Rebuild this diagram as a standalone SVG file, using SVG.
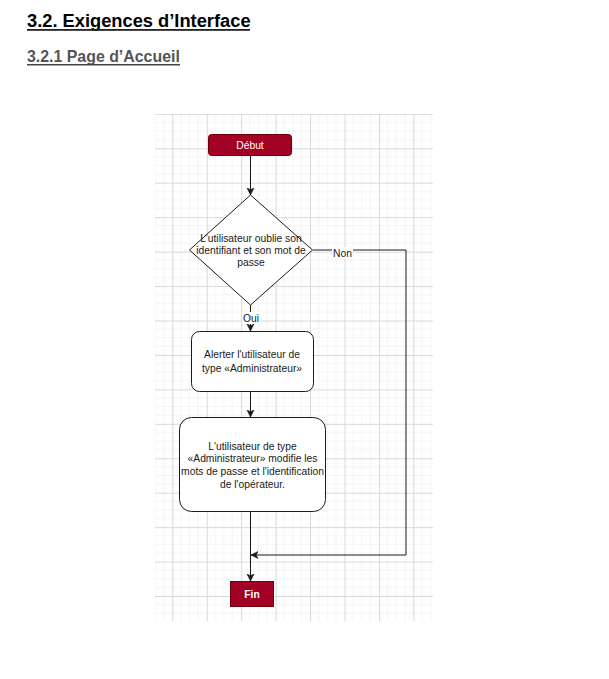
<svg xmlns="http://www.w3.org/2000/svg" width="609" height="679" viewBox="0 0 609 679">
<style>
.h1{font-family:"Liberation Sans",Arial,sans-serif;font-weight:bold;font-size:18.3px;fill:#000}
.h2{font-family:"Liberation Sans",Arial,sans-serif;font-weight:bold;font-size:15.9px;fill:#555}
.t{font-family:"Liberation Sans",Arial,sans-serif;font-size:10.3px;fill:#1a1a1a;text-anchor:middle;dominant-baseline:central}
.w{font-family:"Liberation Sans",Arial,sans-serif;font-size:10.3px;fill:#fff;text-anchor:middle;dominant-baseline:central}
.red{fill:#a20025;stroke:#6f0000;stroke-width:1}
.box{fill:#fff;stroke:#1a1a1a;stroke-width:1}
.ln{fill:none;stroke:#1a1a1a;stroke-width:1}
.lbl{fill:#fff}
</style>
<defs>
<pattern id="grid" patternUnits="userSpaceOnUse" x="172.3" y="148.3" width="34.44" height="34.44">
<path d="M8.61,0V34.44M17.22,0V34.44M25.83,0V34.44M0,8.61H34.44M0,17.22H34.44M0,25.83H34.44" stroke="#f4f4f4" stroke-width="1" fill="none"/>
<path d="M0.5,0V34.44M0,0.5H34.44" stroke="#d8d8d8" stroke-width="1" fill="none"/>
</pattern>
<marker id="arr" markerUnits="userSpaceOnUse" markerWidth="9" markerHeight="9" refX="7" refY="4" orient="auto">
<path d="M0,0.5 L7,4 L0,7.5 L1.8,4 Z" fill="#1a1a1a" stroke="#1a1a1a" stroke-width="0.6"/>
</marker>
</defs>
<rect width="609" height="679" fill="#fff"/>
<text class="h1" x="27" y="27">3.2. Exigences d’Interface</text>
<rect x="27" y="29" width="223" height="1.8" fill="#222"/>
<text class="h2" x="27" y="62">3.2.1 Page d’Accueil</text>
<rect x="27" y="64" width="153" height="1.5" fill="#444"/>
<rect x="155" y="114" width="278" height="507" fill="url(#grid)"/>
<g id="connectors">
<path class="ln" d="M250.5,156 V195" marker-end="url(#arr)"/>
<path class="ln" d="M250.5,305 V331" marker-end="url(#arr)"/>
<rect class="lbl" x="242" y="312" width="18" height="12"/>
<text class="t" x="251" y="318.3">Oui</text>
<path class="ln" d="M313,250 H406 V555 H251" marker-end="url(#arr)"/>
<rect class="lbl" x="332" y="247" width="21" height="12"/>
<text class="t" x="342.5" y="253">Non</text>
<path class="ln" d="M250.5,392 V417" marker-end="url(#arr)"/>
<path class="ln" d="M250.5,512 V581" marker-end="url(#arr)"/>
</g>
<g id="debut">
<rect class="red" x="208.5" y="134.5" width="83" height="21" rx="3"/>
<text class="w" x="250" y="145.5">Début</text>
</g>
<g id="decision">
<path class="box" d="M250.5,195 L312.5,250 L250.5,305 L189.5,250 Z"/>
<text class="t" x="251" y="238">L’utilisateur oublie son</text>
<text class="t" x="251" y="250">identifiant et son mot de</text>
<text class="t" x="251" y="262.5">passe</text>
</g>
<g id="alerter">
<rect class="box" x="191.5" y="331.5" width="122" height="60" rx="8"/>
<text class="t" x="252" y="354.5">Alerter l'utilisateur de</text>
<text class="t" x="252" y="368">type «Administrateur»</text>
</g>
<g id="modifier">
<rect class="box" x="179.5" y="417.5" width="146" height="94" rx="12"/>
<text class="t" x="252.5" y="446">L'utilisateur de type</text>
<text class="t" x="252.5" y="458.5">«Administrateur» modifie les</text>
<text class="t" x="252.5" y="471.5">mots de passe et l'identification</text>
<text class="t" x="252.5" y="484">de l'opérateur.</text>
</g>
<g id="fin">
<rect class="red" x="230.5" y="581.5" width="43" height="25"/>
<text class="w" x="252" y="594" font-weight="bold">Fin</text>
</g>
</svg>
